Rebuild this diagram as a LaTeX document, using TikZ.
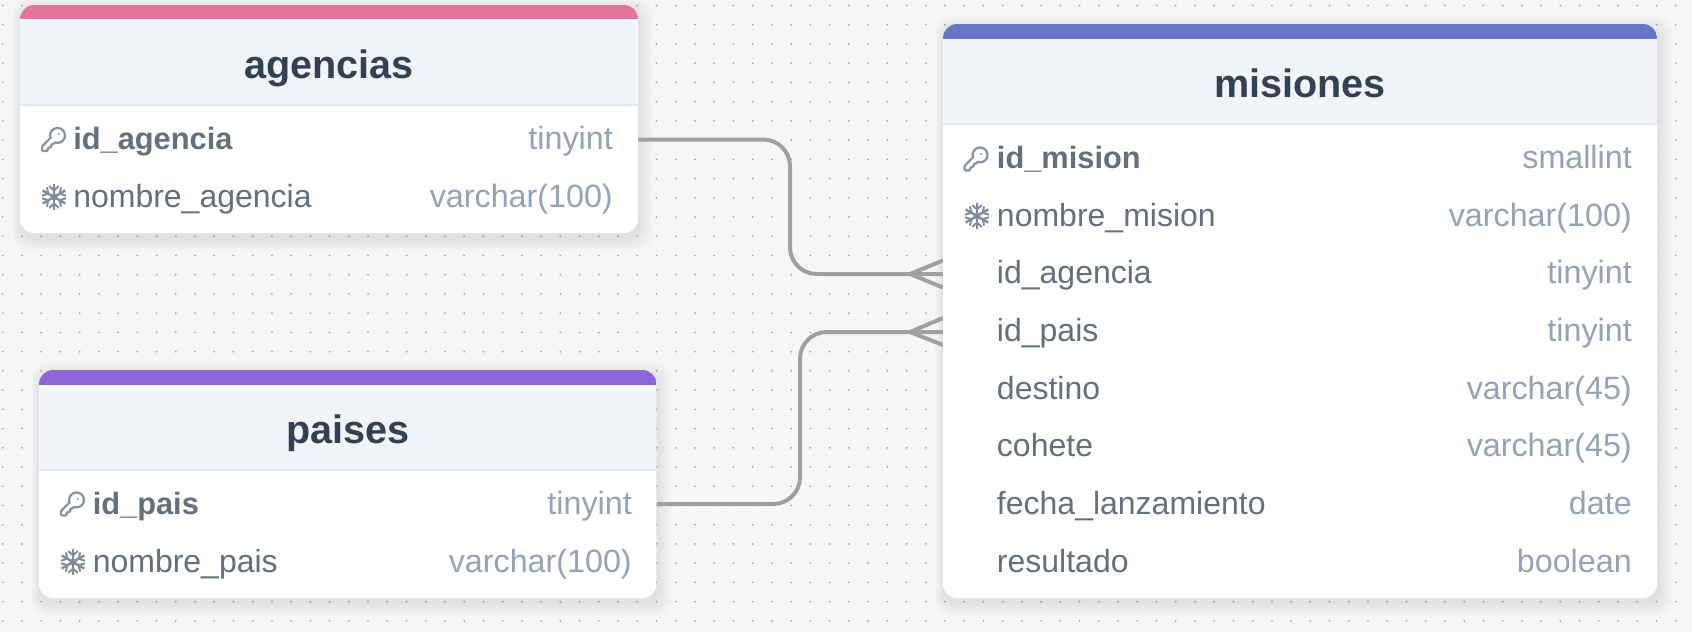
\documentclass[tikz,border=0pt]{standalone}
\usepackage{fontspec}
\setmainfont{Liberation Sans}
\pgfdeclarelayer{bg}
\pgfdeclarelayer{conn}
\pgfsetlayers{bg,conn,main}
\definecolor{pagebg}{HTML}{F6F6F6}
\definecolor{griddot}{HTML}{A8A8A8}
\definecolor{headfill}{HTML}{F1F5F9}
\definecolor{headline}{HTML}{E0E7EF}
\definecolor{titlecol}{HTML}{334155}
\definecolor{namecol}{HTML}{64707E}
\definecolor{typecol}{HTML}{94A3B8}
\definecolor{relcol}{HTML}{A0A0A0}
\definecolor{keycol}{HTML}{8894A3}
\definecolor{flakecol}{HTML}{7F8C9B}
\definecolor{pinkbar}{HTML}{E27598}
\definecolor{purplebar}{HTML}{8F66D8}
\definecolor{bluebar}{HTML}{6775C5}
\tikzset{
  x=0.75pt,y=-0.75pt,
  card/.style={rectangle,fill=white,inner sep=0,outer sep=0,rounded corners=10.5pt},
  title/.style={anchor=base,inner sep=0,text=titlecol,font=\fontsize{29.7}{34}\selectfont\bfseries},
  pkname/.style={anchor=base west,inner sep=0,text=namecol,font=\fontsize{23.1}{28}\selectfont\bfseries},
  colname/.style={anchor=base west,inner sep=0,text=namecol,font=\fontsize{24}{28}\selectfont},
  coltype/.style={anchor=base east,inner sep=0,text=typecol,font=\fontsize{24.2}{28}\selectfont},
  rel/.style={draw=relcol,line width=3pt,rounded corners=20pt},
  crow/.style={draw=relcol,line width=3pt},
  keyicon/.pic={
    \begin{scope}[x=0.86pt,y=0.86pt,shift={(-12,12)}]
      \draw[keycol,line width=1.7pt,line join=round]
        (2.586,-17.414) -- (2,-18.828) -- (2,-21) -- (3,-22) -- (6,-22) -- (7,-21) -- (7,-20) -- (8,-19)
        -- (9,-19) -- (10,-18) -- (10,-17) -- (11,-16) -- (11.172,-16) -- (12.586,-15.414) -- (13.4,-14.6)
        arc[start angle=251,end angle=559,radius=6.5] -- cycle;
      \fill[keycol] (16.5,-7.5) circle[radius=0.9];
    \end{scope}
  },
  flakeicon/.pic={
    \begin{scope}[x=1pt,y=1pt]
      \foreach \a in {30,90,150,210,270,330}{
        \begin{scope}[rotate=\a]
          \draw[flakecol,line width=1.8pt] (0,0) -- (9.8,0);
          \draw[flakecol,line width=1.5pt] (8.2,3.6) -- (5,0) -- (8.2,-3.6);
        \end{scope}
      }
      \fill[flakecol] (0,0) circle[radius=2.6];
    \end{scope}
  }
}
\newcommand{\shadowfor}[1]{%
  \foreach \r in {1,3,5,7,9,11,13}{
    \fill[black,opacity=0.012,rounded corners=12pt]
      ([shift={(-\r*0.6,-\r+5)}]#1.north west) rectangle ([shift={(\r+2,\r+5)}]#1.south east);
  }%
}
\newcommand{\headfor}[5]{% node, bar bottom y, header bottom y, colour, top y
  \begin{scope}
    \clip[rounded corners=10.5pt] (#1.south west) rectangle (#1.north east);
    \fill[headfill] (#1.north west) rectangle (#1.east |- 0,#3);
    \fill[#4] (#1.north west) rectangle (#1.east |- 0,#2);
    \draw[headline,line width=1.5pt] (#1.west |- 0,#3) -- (#1.east |- 0,#3);
  \end{scope}%
}
\begin{document}
\begin{tikzpicture}
\useasboundingbox (0,0) rectangle (1692,632);

% cards
\node[card,minimum width=463.5pt,minimum height=171pt] (agencias) at (329,119) {};
\node[card,minimum width=463.1pt,minimum height=171pt] (paises) at (347.75,484) {};
\node[card,minimum width=535.5pt,minimum height=430.5pt] (misiones) at (1300,311) {};

\begin{pgfonlayer}{bg}
  \fill[pagebg] (0,0) rectangle (1692,632);
  \foreach \i in {0,...,87}{
    \foreach \j in {0,...,32}{
      \fill[griddot] ({2.7+19.23*\i},{5.5+19.23*\j}) circle[radius=1];
    }
  }
  \shadowfor{agencias}
  \shadowfor{paises}
  \shadowfor{misiones}
\end{pgfonlayer}

\headfor{agencias}{19}{105}{pinkbar}{5}
\headfor{paises}{385}{470}{purplebar}{370}
\headfor{misiones}{38.5}{124}{bluebar}{24}

% agencias
\node[title] (tagencias) at (329,78) {agencias};
\pic at (53.5,139.5) {keyicon};
\pic at (54,197) {flakeicon};
\node[pkname] (agid) at (73,149.3) {id\_agencia};
\node[coltype] (agidt) at (613,149.3) {tinyint};
\node[colname] (agnom) at (73,207) {nombre\_agencia};
\node[coltype] (agnomt) at (613,207) {varchar(100)};

% paises
\node[title] (tpaises) at (347.75,443.5) {paises};
\pic at (72.5,504) {keyicon};
\pic at (73,562) {flakeicon};
\node[pkname] (paid) at (92.5,514) {id\_pais};
\node[coltype] (paidt) at (632,514) {tinyint};
\node[colname] (panom) at (92.5,572) {nombre\_pais};
\node[coltype] (panomt) at (632,572) {varchar(100)};

% misiones
\node[title] (tmisiones) at (1300,97.5) {misiones};
\pic at (976,159) {keyicon};
\pic at (977,216) {flakeicon};
\node[pkname] (miid) at (996.7,168.5) {id\_mision};
\node[coltype] (miidt) at (1632,168.5) {smallint};
\node[colname] (minom) at (996.7,226.3) {nombre\_mision};
\node[coltype] (minomt) at (1632,226.3) {varchar(100)};
\node[colname] (miag) at (996.7,283.4) {id\_agencia};
\node[coltype] (miagt) at (1632,283.4) {tinyint};
\node[colname] (mipa) at (996.7,341.2) {id\_pais};
\node[coltype] (mipat) at (1632,341.2) {tinyint};
\node[colname] (mide) at (996.7,399) {destino};
\node[coltype] (midet) at (1632,399) {varchar(45)};
\node[colname] (mico) at (996.7,456.8) {cohete};
\node[coltype] (micot) at (1632,456.8) {varchar(45)};
\node[colname] (mifl) at (996.7,514.5) {fecha\_lanzamiento};
\node[coltype] (miflt) at (1632,514.5) {date};
\node[colname] (mire) at (996.7,572) {resultado};
\node[coltype] (miret) at (1632,572) {boolean};

% connector anchors
\coordinate (agout) at (637.75,139.5);
\coordinate (paout) at (656.5,504);
\coordinate (miin1) at (943,274);
\coordinate (miin2) at (943,332);
\coordinate (apex1) at (910,274);
\coordinate (apex2) at (910,332);
\coordinate (up1) at (943,260.5);
\coordinate (dn1) at (943,287.5);
\coordinate (up2) at (943,318);
\coordinate (dn2) at (943,345);
\coordinate (bendA) at (790,0);
\coordinate (bendB) at (800,0);

\begin{pgfonlayer}{conn}
  \draw[rel] (agout) -- (bendA |- agout) -- (bendA |- miin1) -- (miin1);
  \draw[rel] (paout) -- (bendB |- paout) -- (bendB |- miin2) -- (miin2);
  \draw[crow] (up1) -- (apex1) -- (dn1);
  \draw[crow] (up2) -- (apex2) -- (dn2);
\end{pgfonlayer}
\end{tikzpicture}
\end{document}
